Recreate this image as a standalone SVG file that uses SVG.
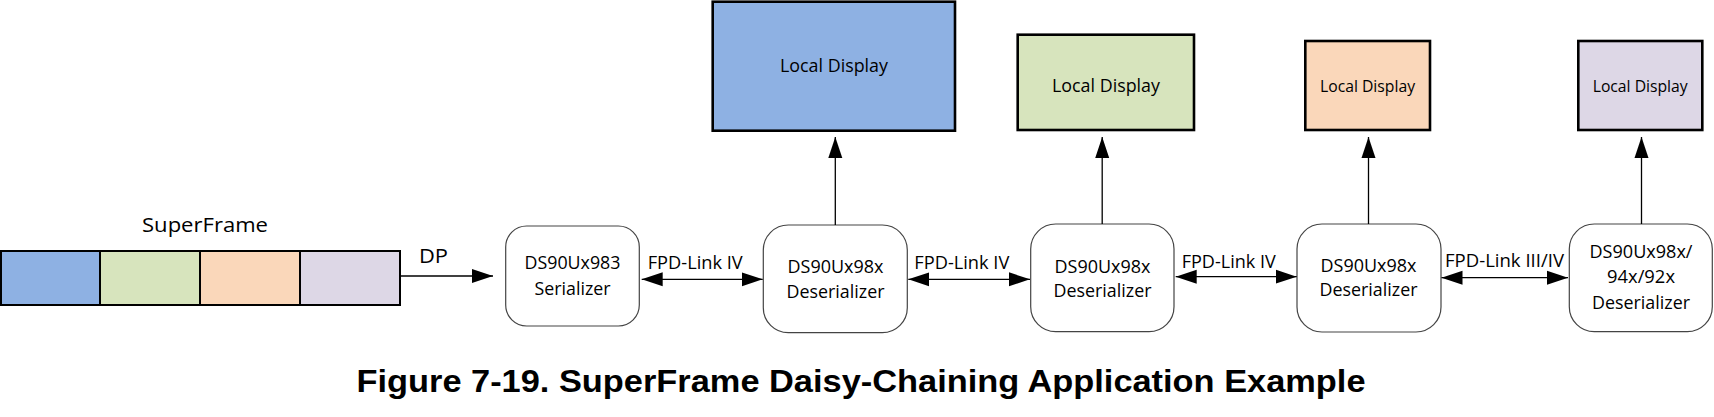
<svg xmlns="http://www.w3.org/2000/svg" width="1714" height="417" viewBox="0 0 1714 417">
<style>
text{font-family:"Open Sans","Noto Sans","Liberation Sans",sans-serif;fill:#000;}
.t{font-size:17.5px;text-anchor:middle;}
.ts{font-size:16px;text-anchor:middle;}
.lbl{font-size:17.5px;}
.chip{fill:#fff;stroke:#444;stroke-width:1.2;}
.disp{stroke:#000;stroke-width:2.6;}
.seg{stroke:#000;stroke-width:2;}
.con{stroke:#000;stroke-width:1.3;fill:none;}
.cap{font-family:"Liberation Sans",Arial,sans-serif;font-weight:bold;font-size:32px;}
</style>
<defs>
<marker id="ah" markerUnits="userSpaceOnUse" markerWidth="22" markerHeight="15" refX="21" refY="7" orient="auto-start-reverse" viewBox="0 0 22 14">
<path d="M0,0 L21,7 L0,14 Z" fill="#000"/>
</marker>
</defs>
<rect width="1714" height="417" fill="#fff"/>

<g id="superframe">
<rect class="seg" x="1" y="251" width="99" height="54" fill="#8EB1E3"/>
<rect class="seg" x="100" y="251" width="100" height="54" fill="#D7E4BD"/>
<rect class="seg" x="200" y="251" width="100" height="54" fill="#FAD7BA"/>
<rect class="seg" x="300" y="251" width="100" height="54" fill="#DDD7E6"/>
<text x="205" y="232" font-size="20" text-anchor="middle" textLength="126" lengthAdjust="spacingAndGlyphs">SuperFrame</text>
</g>

<g id="serializer">
<rect class="chip" x="505.7" y="226" width="133.6" height="100" rx="21"/>
<text class="t" x="572.5" y="269.3" textLength="96" lengthAdjust="spacingAndGlyphs">DS90Ux983</text>
<text class="t" x="572.5" y="295" textLength="76" lengthAdjust="spacingAndGlyphs">Serializer</text>
</g>

<g id="deser1">
<rect class="chip" x="763.3" y="225" width="144" height="107.7" rx="25"/>
<text class="t" x="835.5" y="273.3" textLength="96" lengthAdjust="spacingAndGlyphs">DS90Ux98x</text>
<text class="t" x="835.5" y="297.7" textLength="98" lengthAdjust="spacingAndGlyphs">Deserializer</text>
</g>
<g id="deser2">
<rect class="chip" x="1030.7" y="224" width="143.3" height="107.7" rx="25"/>
<text class="t" x="1102.5" y="272.7" textLength="96" lengthAdjust="spacingAndGlyphs">DS90Ux98x</text>
<text class="t" x="1102.5" y="296.7" textLength="98" lengthAdjust="spacingAndGlyphs">Deserializer</text>
</g>
<g id="deser3">
<rect class="chip" x="1297" y="224" width="144" height="108" rx="25"/>
<text class="t" x="1368.5" y="272" textLength="96" lengthAdjust="spacingAndGlyphs">DS90Ux98x</text>
<text class="t" x="1368.5" y="296.3" textLength="98" lengthAdjust="spacingAndGlyphs">Deserializer</text>
</g>
<g id="deser4">
<rect class="chip" x="1569.3" y="224" width="143" height="107.7" rx="25"/>
<text class="t" x="1641" y="258.3" textLength="103" lengthAdjust="spacingAndGlyphs">DS90Ux98x/</text>
<text class="t" x="1641" y="283.3" textLength="68" lengthAdjust="spacingAndGlyphs">94x/92x</text>
<text class="t" x="1641" y="309.3" textLength="98" lengthAdjust="spacingAndGlyphs">Deserializer</text>
</g>

<g id="display1">
<rect class="disp" x="712.7" y="1.7" width="242.3" height="129" fill="#8EB1E3"/>
<text class="t" x="834" y="71.7" textLength="108" lengthAdjust="spacingAndGlyphs">Local Display</text>
</g>
<g id="display2">
<rect class="disp" x="1017.7" y="34.7" width="176.3" height="95.3" fill="#D7E4BD"/>
<text class="t" x="1106" y="91.7" textLength="108" lengthAdjust="spacingAndGlyphs">Local Display</text>
</g>
<g id="display3">
<rect class="disp" x="1305.3" y="41" width="124.7" height="89" fill="#FAD7BA"/>
<text class="ts" x="1367.5" y="91.7" textLength="95" lengthAdjust="spacingAndGlyphs">Local Display</text>
</g>
<g id="display4">
<rect class="disp" x="1578.3" y="41" width="124" height="89" fill="#DDD7E6"/>
<text class="ts" x="1640.2" y="91.7" textLength="95" lengthAdjust="spacingAndGlyphs">Local Display</text>
</g>

<g id="connectors">
<line class="con" x1="400" y1="276" x2="493" y2="276" marker-end="url(#ah)"/>
<text x="419" y="263" font-size="20" textLength="29" lengthAdjust="spacingAndGlyphs">DP</text>

<line class="con" x1="641.7" y1="279.3" x2="762.7" y2="279.3" marker-start="url(#ah)" marker-end="url(#ah)"/>
<text class="lbl" x="647.7" y="269.3" textLength="95" lengthAdjust="spacingAndGlyphs">FPD-Link IV</text>

<line class="con" x1="908.3" y1="279.3" x2="1030" y2="279.3" marker-start="url(#ah)" marker-end="url(#ah)"/>
<text class="lbl" x="914.3" y="268.5" textLength="95" lengthAdjust="spacingAndGlyphs">FPD-Link IV</text>

<line class="con" x1="1175.7" y1="276.7" x2="1296.7" y2="276.7" marker-start="url(#ah)" marker-end="url(#ah)"/>
<text class="lbl" x="1181.7" y="268.3" textLength="94" lengthAdjust="spacingAndGlyphs">FPD-Link IV</text>

<line class="con" x1="1441.5" y1="277.7" x2="1568" y2="277.7" marker-start="url(#ah)" marker-end="url(#ah)"/>
<text class="lbl" x="1445" y="266.7" textLength="119" lengthAdjust="spacingAndGlyphs">FPD-Link III/IV</text>

<line class="con" x1="835.3" y1="225" x2="835.3" y2="137" marker-end="url(#ah)"/>
<line class="con" x1="1102.2" y1="224" x2="1102.2" y2="137" marker-end="url(#ah)"/>
<line class="con" x1="1368.5" y1="224" x2="1368.5" y2="137" marker-end="url(#ah)"/>
<line class="con" x1="1641.5" y1="224" x2="1641.5" y2="137" marker-end="url(#ah)"/>
</g>

<text class="cap" x="356.5" y="391.7" textLength="1009" lengthAdjust="spacingAndGlyphs">Figure 7-19. SuperFrame Daisy-Chaining Application Example</text>
</svg>
